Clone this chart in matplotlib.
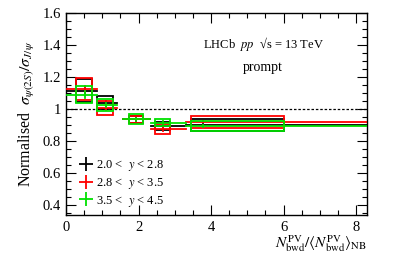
import matplotlib
matplotlib.use("Agg")
import matplotlib.pyplot as plt
from matplotlib.patches import Rectangle
from matplotlib.lines import Line2D
from matplotlib.ticker import MultipleLocator

plt.rcParams['font.family'] = ['Liberation Serif', 'DejaVu Serif']
plt.rcParams['mathtext.fontset'] = 'stix'

# Data
x_pts = [0.52, 1.10, 1.93, 2.67, 3.78]
x_lo = [0.03, 0.86, 1.56, 2.35, 3.30]
x_hi = [0.86, 1.40, 2.32, 3.30, 8.30]
box_l = [0.27, 0.86, 1.74, 2.46, 3.45]
box_r = [0.71, 1.30, 2.12, 2.87, 6.00]

labels = ["2.0 <  $y$ < 2.8", "2.8 <  $y$ < 3.5", "3.5 <  $y$ < 4.5"]
colors = ["black", "#ff0000", "#00e000"]
vals = [
    [1.115, 1.040, 0.935, 0.895, 0.900],
    [1.125, 1.005, 0.935, 0.875, 0.920],
    [1.090, 1.025, 0.935, 0.915, 0.895],
]
stat = [
    [0.015, 0.012, 0.008, 0.010, 0.004],
    [0.018, 0.014, 0.009, 0.012, 0.004],
    [0.020, 0.015, 0.010, 0.012, 0.005],
]
syst = [
    [0.070, 0.038, 0.020, 0.026, 0.036],
    [0.070, 0.045, 0.022, 0.030, 0.037],
    [0.054, 0.035, 0.032, 0.024, 0.032],
]

fig = plt.figure(figsize=(3.99, 2.57), dpi=100)
ax = fig.add_axes([0.1654, 0.1634, 0.7544, 0.786])

ax.axhline(1.0, color='black', ls=(0, (2, 1.5)), lw=0.9, zorder=1)

for s in range(3):
    c = colors[s]
    for i in range(len(x_pts)):
        y = vals[s][i]
        ax.add_patch(Rectangle((box_l[i], y - syst[s][i]), box_r[i] - box_l[i],
                               2 * syst[s][i], fill=False, edgecolor=c, lw=1.3,
                               zorder=2 + s))
        ax.plot([x_lo[i], x_hi[i]], [y, y], color=c, lw=1.3, zorder=2 + s)
        ax.plot([x_pts[i], x_pts[i]], [y - stat[s][i], y + stat[s][i]],
                color=c, lw=1.3, zorder=2 + s)

ax.set_xlim(0, 8.3)
ax.set_ylim(0.337, 1.6)
ax.xaxis.set_major_locator(MultipleLocator(2))
ax.xaxis.set_minor_locator(MultipleLocator(0.5))
ax.yaxis.set_major_locator(MultipleLocator(0.2))
ax.yaxis.set_minor_locator(MultipleLocator(0.05))
ax.tick_params(which='both', direction='in', top=True, right=True, labelsize=10.5, width=0.8)
ax.tick_params(which='major', length=7)
ax.tick_params(which='minor', length=3.5)
ax.tick_params(axis='x', pad=4)
ax.set_yticks([0.4, 0.6, 0.8, 1.0, 1.2, 1.4, 1.6])
ax.set_yticklabels(["0.4", "0.6", "0.8", "1", "1.2", "1.4", "1.6"])
for sp in ax.spines.values():
    sp.set_linewidth(1.0)

ax.set_ylabel(r"Normalised  $\sigma_{\psi(2S)}/\sigma_{J/\psi}$", fontsize=11.5)
fig.text(0.918, 0.012, r"$N^{\rm PV}_{\rm bwd}/\langle N^{\rm PV}_{\rm bwd}\rangle_{\rm NB}$",
         ha='right', va='bottom', fontsize=11)

ax.text(0.655, 0.845, "LHCb  $pp$  √s = 13 TeV", transform=ax.transAxes,
        ha='center', va='center', fontsize=9)
ax.text(0.655, 0.73, "prompt", transform=ax.transAxes, ha='center', va='center',
        fontsize=10)

handles = [Line2D([], [], color=c, lw=1.3, marker='+', markersize=10, markeredgewidth=1.3,
                  linestyle='None') for c in colors]
ax.legend(handles, labels, loc='lower left', bbox_to_anchor=(0.025, 0.0), frameon=False,
          fontsize=9, handlelength=1.0, handletextpad=0.3, labelspacing=0.22,
          borderaxespad=0.1)

fig.savefig("out.png", dpi=100)
